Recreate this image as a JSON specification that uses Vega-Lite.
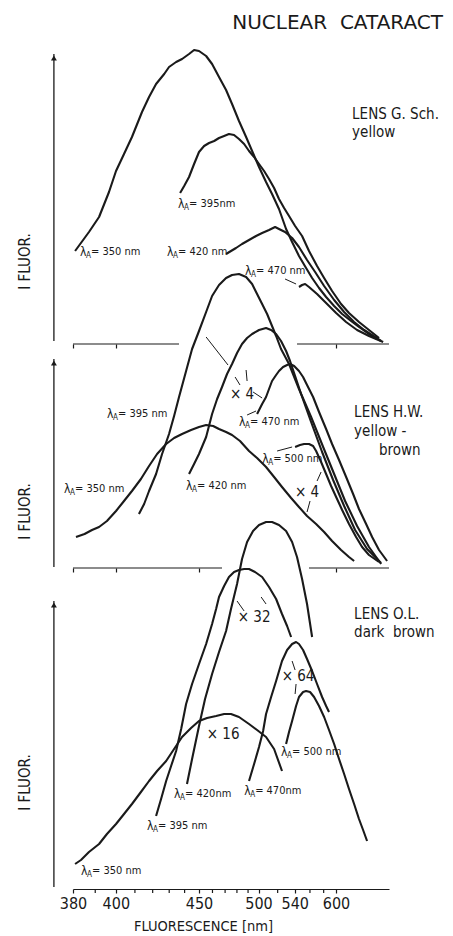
{
"$schema":"https://vega.github.io/schema/vega-lite/v6.json",
"background":"white",
"padding":{"left":17,"top":12,"right":2,"bottom":2},
"spacing":0,
"bounds":"flush",
"title":{"text":"NUCLEAR\u00a0\u00a0CATARACT","anchor":"end","fontSize":20,"fontWeight":"normal","font":"DejaVu Sans","dx":4,"offset":16,"color":"#1a1a1a"},
"config":{"view":{"stroke":null},"font":"'Liberation Sans Narrow', 'DejaVu Sans Condensed', sans-serif","text":{"color":"#1a1a1a"},"axis":{"grid":false}},
"datasets":{
"curves":[
{"p":1,"s":"350","nm":380.9,"v":93},{"p":1,"s":"350","nm":387.1,"v":112},{"p":1,"s":"350","nm":391.8,"v":127},{"p":1,"s":"350","nm":396.6,"v":152},{"p":1,"s":"350","nm":400.1,"v":173},{"p":1,"s":"350","nm":404.2,"v":190},{"p":1,"s":"350","nm":408.4,"v":207},{"p":1,"s":"350","nm":413.9,"v":232},{"p":1,"s":"350","nm":417.9,"v":247},{"p":1,"s":"350","nm":422.0,"v":260},{"p":1,"s":"350","nm":426.9,"v":270},{"p":1,"s":"350","nm":429.9,"v":277},{"p":1,"s":"350","nm":434.4,"v":282},{"p":1,"s":"350","nm":438.3,"v":285},{"p":1,"s":"350","nm":443.0,"v":290},{"p":1,"s":"350","nm":446.5,"v":294},{"p":1,"s":"350","nm":450.0,"v":293},{"p":1,"s":"350","nm":455.2,"v":288},{"p":1,"s":"350","nm":459.7,"v":280},{"p":1,"s":"350","nm":465.1,"v":267},{"p":1,"s":"350","nm":470.8,"v":254},{"p":1,"s":"350","nm":475.8,"v":240},{"p":1,"s":"350","nm":481.8,"v":223},{"p":1,"s":"350","nm":488.2,"v":207},{"p":1,"s":"350","nm":493.8,"v":193},{"p":1,"s":"350","nm":500.5,"v":177},{"p":1,"s":"350","nm":507.6,"v":162},{"p":1,"s":"350","nm":513.9,"v":150},{"p":1,"s":"350","nm":521.5,"v":135},{"p":1,"s":"350","nm":529.6,"v":115},{"p":1,"s":"350","nm":536.8,"v":102},{"p":1,"s":"350","nm":545.4,"v":88},{"p":1,"s":"350","nm":554.7,"v":76},{"p":1,"s":"350","nm":563.0,"v":66},{"p":1,"s":"350","nm":573.0,"v":56},{"p":1,"s":"350","nm":583.8,"v":47},{"p":1,"s":"350","nm":596.8,"v":38},{"p":1,"s":"350","nm":610.7,"v":30},{"p":1,"s":"350","nm":627.4,"v":23},{"p":1,"s":"350","nm":643.4,"v":17},{"p":1,"s":"350","nm":665.5,"v":10},{"p":1,"s":"350","nm":685.2,"v":5},
{"p":1,"s":"395","nm":437.0,"v":151},{"p":1,"s":"395","nm":439.7,"v":158},{"p":1,"s":"395","nm":443.0,"v":167},{"p":1,"s":"395","nm":446.5,"v":180},{"p":1,"s":"395","nm":450.0,"v":192},{"p":1,"s":"395","nm":453.7,"v":198},{"p":1,"s":"395","nm":457.4,"v":201},{"p":1,"s":"395","nm":461.3,"v":203},{"p":1,"s":"395","nm":465.1,"v":206},{"p":1,"s":"395","nm":469.2,"v":208},{"p":1,"s":"395","nm":473.2,"v":210},{"p":1,"s":"395","nm":477.5,"v":209},{"p":1,"s":"395","nm":481.8,"v":205},{"p":1,"s":"395","nm":486.4,"v":200},{"p":1,"s":"395","nm":490.9,"v":193},{"p":1,"s":"395","nm":495.7,"v":187},{"p":1,"s":"395","nm":500.5,"v":180},{"p":1,"s":"395","nm":505.6,"v":173},{"p":1,"s":"395","nm":510.7,"v":165},{"p":1,"s":"395","nm":516.1,"v":156},{"p":1,"s":"395","nm":521.5,"v":145},{"p":1,"s":"395","nm":527.3,"v":136},{"p":1,"s":"395","nm":533.1,"v":128},{"p":1,"s":"395","nm":540.5,"v":118},{"p":1,"s":"395","nm":549.4,"v":108},{"p":1,"s":"395","nm":558.7,"v":93},{"p":1,"s":"395","nm":570.1,"v":78},{"p":1,"s":"395","nm":580.7,"v":66},{"p":1,"s":"395","nm":593.4,"v":53},{"p":1,"s":"395","nm":608.8,"v":40},{"p":1,"s":"395","nm":623.4,"v":31},{"p":1,"s":"395","nm":643.4,"v":22},{"p":1,"s":"395","nm":665.5,"v":14},{"p":1,"s":"395","nm":690.1,"v":6},
{"p":1,"s":"420","nm":470.8,"v":90},{"p":1,"s":"420","nm":474.9,"v":93},{"p":1,"s":"420","nm":479.2,"v":96},{"p":1,"s":"420","nm":484.5,"v":100},{"p":1,"s":"420","nm":490.9,"v":104},{"p":1,"s":"420","nm":497.6,"v":108},{"p":1,"s":"420","nm":503.6,"v":111},{"p":1,"s":"420","nm":510.7,"v":114},{"p":1,"s":"420","nm":517.2,"v":117},{"p":1,"s":"420","nm":521.5,"v":115},{"p":1,"s":"420","nm":528.4,"v":112},{"p":1,"s":"420","nm":536.8,"v":106},{"p":1,"s":"420","nm":545.4,"v":97},{"p":1,"s":"420","nm":556.0,"v":84},{"p":1,"s":"420","nm":567.3,"v":72},{"p":1,"s":"420","nm":580.7,"v":58},{"p":1,"s":"420","nm":596.8,"v":44},{"p":1,"s":"420","nm":614.3,"v":32},{"p":1,"s":"420","nm":633.4,"v":22},{"p":1,"s":"420","nm":654.5,"v":14},{"p":1,"s":"420","nm":695.6,"v":3},
{"p":1,"s":"470","nm":545.4,"v":57},{"p":1,"s":"470","nm":549.4,"v":59},{"p":1,"s":"470","nm":553.4,"v":60},{"p":1,"s":"470","nm":558.7,"v":57},{"p":1,"s":"470","nm":570.1,"v":50},{"p":1,"s":"470","nm":583.8,"v":41},{"p":1,"s":"470","nm":600.2,"v":31},{"p":1,"s":"470","nm":617.9,"v":22},{"p":1,"s":"470","nm":639.4,"v":14},{"p":1,"s":"470","nm":665.5,"v":8},{"p":1,"s":"470","nm":701.1,"v":2},
{"p":2,"s":"350","nm":381.3,"v":31},{"p":2,"s":"350","nm":385.1,"v":34},{"p":2,"s":"350","nm":388.5,"v":38},{"p":2,"s":"350","nm":391.8,"v":41},{"p":2,"s":"350","nm":395.6,"v":47},{"p":2,"s":"350","nm":400.1,"v":57},{"p":2,"s":"350","nm":404.2,"v":67},{"p":2,"s":"350","nm":408.4,"v":77},{"p":2,"s":"350","nm":413.3,"v":89},{"p":2,"s":"350","nm":417.9,"v":102},{"p":2,"s":"350","nm":422.6,"v":114},{"p":2,"s":"350","nm":428.1,"v":124},{"p":2,"s":"350","nm":433.1,"v":130},{"p":2,"s":"350","nm":438.3,"v":134},{"p":2,"s":"350","nm":444.4,"v":138},{"p":2,"s":"350","nm":450.0,"v":141},{"p":2,"s":"350","nm":455.2,"v":143},{"p":2,"s":"350","nm":460.5,"v":142},{"p":2,"s":"350","nm":465.1,"v":139},{"p":2,"s":"350","nm":470.8,"v":136},{"p":2,"s":"350","nm":475.8,"v":133},{"p":2,"s":"350","nm":482.7,"v":127},{"p":2,"s":"350","nm":490.9,"v":117},{"p":2,"s":"350","nm":498.6,"v":110},{"p":2,"s":"350","nm":507.6,"v":101},{"p":2,"s":"350","nm":516.1,"v":91},{"p":2,"s":"350","nm":524.9,"v":81},{"p":2,"s":"350","nm":535.6,"v":70},{"p":2,"s":"350","nm":545.4,"v":61},{"p":2,"s":"350","nm":556.0,"v":52},{"p":2,"s":"350","nm":568.7,"v":44},{"p":2,"s":"350","nm":580.7,"v":36},{"p":2,"s":"350","nm":593.4,"v":27},{"p":2,"s":"350","nm":608.8,"v":18},{"p":2,"s":"350","nm":623.4,"v":11},{"p":2,"s":"350","nm":633.4,"v":7},
{"p":2,"s":"395","nm":412.2,"v":54},{"p":2,"s":"395","nm":415.1,"v":64},{"p":2,"s":"395","nm":417.9,"v":77},{"p":2,"s":"395","nm":422.0,"v":94},{"p":2,"s":"395","nm":425.6,"v":114},{"p":2,"s":"395","nm":429.9,"v":134},{"p":2,"s":"395","nm":433.1,"v":152},{"p":2,"s":"395","nm":436.3,"v":171},{"p":2,"s":"395","nm":441.0,"v":197},{"p":2,"s":"395","nm":445.1,"v":219},{"p":2,"s":"395","nm":450.0,"v":237},{"p":2,"s":"395","nm":455.2,"v":256},{"p":2,"s":"395","nm":459.7,"v":272},{"p":2,"s":"395","nm":465.1,"v":283},{"p":2,"s":"395","nm":470.8,"v":290},{"p":2,"s":"395","nm":475.8,"v":293},{"p":2,"s":"395","nm":481.8,"v":294},{"p":2,"s":"395","nm":488.2,"v":291},{"p":2,"s":"395","nm":493.8,"v":284},{"p":2,"s":"395","nm":498.6,"v":274},{"p":2,"s":"395","nm":503.6,"v":264},{"p":2,"s":"395","nm":508.7,"v":254},{"p":2,"s":"395","nm":513.0,"v":244},{"p":2,"s":"395","nm":518.3,"v":232},{"p":2,"s":"395","nm":523.8,"v":219},{"p":2,"s":"395","nm":533.1,"v":204},{"p":2,"s":"395","nm":545.4,"v":179},{"p":2,"s":"395","nm":561.6,"v":151},{"p":2,"s":"395","nm":579.2,"v":121},{"p":2,"s":"395","nm":596.8,"v":94},{"p":2,"s":"395","nm":616.1,"v":67},{"p":2,"s":"395","nm":639.4,"v":42},{"p":2,"s":"395","nm":665.5,"v":21},{"p":2,"s":"395","nm":695.6,"v":4},
{"p":2,"s":"420","nm":443.0,"v":94},{"p":2,"s":"420","nm":446.5,"v":104},{"p":2,"s":"420","nm":450.0,"v":114},{"p":2,"s":"420","nm":455.2,"v":131},{"p":2,"s":"420","nm":459.7,"v":154},{"p":2,"s":"420","nm":463.6,"v":169},{"p":2,"s":"420","nm":467.5,"v":181},{"p":2,"s":"420","nm":471.6,"v":194},{"p":2,"s":"420","nm":475.8,"v":204},{"p":2,"s":"420","nm":480.1,"v":215},{"p":2,"s":"420","nm":484.5,"v":224},{"p":2,"s":"420","nm":489.1,"v":230},{"p":2,"s":"420","nm":493.8,"v":234},{"p":2,"s":"420","nm":500.5,"v":238},{"p":2,"s":"420","nm":507.6,"v":240},{"p":2,"s":"420","nm":512.9,"v":238},{"p":2,"s":"420","nm":518.3,"v":234},{"p":2,"s":"420","nm":523.8,"v":227},{"p":2,"s":"420","nm":529.6,"v":217},{"p":2,"s":"420","nm":534.3,"v":207},{"p":2,"s":"420","nm":540.5,"v":192},{"p":2,"s":"420","nm":548.1,"v":174},{"p":2,"s":"420","nm":561.6,"v":146},{"p":2,"s":"420","nm":577.6,"v":116},{"p":2,"s":"420","nm":595.1,"v":88},{"p":2,"s":"420","nm":614.3,"v":62},{"p":2,"s":"420","nm":635.4,"v":38},{"p":2,"s":"420","nm":661.1,"v":19},{"p":2,"s":"420","nm":695.6,"v":5},
{"p":2,"s":"470","nm":498.6,"v":154},{"p":2,"s":"470","nm":503.6,"v":164},{"p":2,"s":"470","nm":507.6,"v":171},{"p":2,"s":"470","nm":510.7,"v":179},{"p":2,"s":"470","nm":513.9,"v":187},{"p":2,"s":"470","nm":518.3,"v":193},{"p":2,"s":"470","nm":521.5,"v":197},{"p":2,"s":"470","nm":526.1,"v":201},{"p":2,"s":"470","nm":530.8,"v":203},{"p":2,"s":"470","nm":534.3,"v":204},{"p":2,"s":"470","nm":539.3,"v":202},{"p":2,"s":"470","nm":545.4,"v":197},{"p":2,"s":"470","nm":550.7,"v":191},{"p":2,"s":"470","nm":556.0,"v":183},{"p":2,"s":"470","nm":564.4,"v":171},{"p":2,"s":"470","nm":573.0,"v":156},{"p":2,"s":"470","nm":583.8,"v":139},{"p":2,"s":"470","nm":593.4,"v":124},{"p":2,"s":"470","nm":605.2,"v":108},{"p":2,"s":"470","nm":618.0,"v":91},{"p":2,"s":"470","nm":631.4,"v":74},{"p":2,"s":"470","nm":643.4,"v":59},{"p":2,"s":"470","nm":658.9,"v":44},{"p":2,"s":"470","nm":672.9,"v":31},{"p":2,"s":"470","nm":690.1,"v":18},{"p":2,"s":"470","nm":712.0,"v":7},
{"p":2,"s":"500","nm":540.5,"v":121},{"p":2,"s":"500","nm":546.7,"v":123},{"p":2,"s":"500","nm":552.0,"v":124},{"p":2,"s":"500","nm":558.7,"v":124},{"p":2,"s":"500","nm":564.4,"v":122},{"p":2,"s":"500","nm":568.7,"v":117},{"p":2,"s":"500","nm":576.1,"v":106},{"p":2,"s":"500","nm":583.8,"v":94},{"p":2,"s":"500","nm":591.8,"v":82},{"p":2,"s":"500","nm":600.2,"v":71},{"p":2,"s":"500","nm":610.7,"v":58},{"p":2,"s":"500","nm":623.4,"v":44},{"p":2,"s":"500","nm":637.4,"v":31},{"p":2,"s":"500","nm":650.0,"v":21},{"p":2,"s":"500","nm":665.5,"v":13},{"p":2,"s":"500","nm":690.1,"v":6},
{"p":3,"s":"350","nm":380.9,"v":25},{"p":3,"s":"350","nm":383.5,"v":29},{"p":3,"s":"350","nm":387.1,"v":37},{"p":3,"s":"350","nm":391.8,"v":45},{"p":3,"s":"350","nm":395.6,"v":55},{"p":3,"s":"350","nm":400.1,"v":65},{"p":3,"s":"350","nm":404.2,"v":75},{"p":3,"s":"350","nm":408.4,"v":85},{"p":3,"s":"350","nm":413.3,"v":97},{"p":3,"s":"350","nm":417.9,"v":108},{"p":3,"s":"350","nm":422.6,"v":118},{"p":3,"s":"350","nm":428.1,"v":128},{"p":3,"s":"350","nm":433.1,"v":140},{"p":3,"s":"350","nm":438.3,"v":152},{"p":3,"s":"350","nm":444.4,"v":161},{"p":3,"s":"350","nm":450.0,"v":168},{"p":3,"s":"350","nm":455.9,"v":171},{"p":3,"s":"350","nm":462.8,"v":173},{"p":3,"s":"350","nm":469.2,"v":175},{"p":3,"s":"350","nm":474.9,"v":175},{"p":3,"s":"350","nm":481.8,"v":172},{"p":3,"s":"350","nm":490.9,"v":165},{"p":3,"s":"350","nm":498.6,"v":159},{"p":3,"s":"350","nm":507.6,"v":152},{"p":3,"s":"350","nm":516.1,"v":140},{"p":3,"s":"350","nm":524.9,"v":118},
{"p":3,"s":"395","nm":422.0,"v":73},{"p":3,"s":"395","nm":425.0,"v":90},{"p":3,"s":"395","nm":428.1,"v":108},{"p":3,"s":"395","nm":431.2,"v":123},{"p":3,"s":"395","nm":434.4,"v":138},{"p":3,"s":"395","nm":437.7,"v":160},{"p":3,"s":"395","nm":441.0,"v":185},{"p":3,"s":"395","nm":445.1,"v":205},{"p":3,"s":"395","nm":450.0,"v":225},{"p":3,"s":"395","nm":455.2,"v":245},{"p":3,"s":"395","nm":459.7,"v":265},{"p":3,"s":"395","nm":462.8,"v":280},{"p":3,"s":"395","nm":465.1,"v":292},{"p":3,"s":"395","nm":469.2,"v":303},{"p":3,"s":"395","nm":473.2,"v":312},{"p":3,"s":"395","nm":477.5,"v":317},{"p":3,"s":"395","nm":481.8,"v":319},{"p":3,"s":"395","nm":486.4,"v":320},{"p":3,"s":"395","nm":490.9,"v":320},{"p":3,"s":"395","nm":496.6,"v":317},{"p":3,"s":"395","nm":503.6,"v":312},{"p":3,"s":"395","nm":510.7,"v":302},{"p":3,"s":"395","nm":518.3,"v":290},{"p":3,"s":"395","nm":524.9,"v":275},{"p":3,"s":"395","nm":530.8,"v":263},{"p":3,"s":"395","nm":535.6,"v":252},
{"p":3,"s":"420","nm":441.6,"v":105},{"p":3,"s":"420","nm":445.1,"v":130},{"p":3,"s":"420","nm":450.0,"v":163},{"p":3,"s":"420","nm":454.4,"v":190},{"p":3,"s":"420","nm":459.7,"v":215},{"p":3,"s":"420","nm":465.1,"v":237},{"p":3,"s":"420","nm":470.8,"v":258},{"p":3,"s":"420","nm":474.9,"v":280},{"p":3,"s":"420","nm":480.1,"v":305},{"p":3,"s":"420","nm":484.5,"v":330},{"p":3,"s":"420","nm":489.1,"v":347},{"p":3,"s":"420","nm":494.7,"v":358},{"p":3,"s":"420","nm":500.5,"v":364},{"p":3,"s":"420","nm":507.6,"v":367},{"p":3,"s":"420","nm":513.9,"v":367},{"p":3,"s":"420","nm":521.5,"v":364},{"p":3,"s":"420","nm":529.6,"v":358},{"p":3,"s":"420","nm":536.8,"v":347},{"p":3,"s":"420","nm":542.9,"v":332},{"p":3,"s":"420","nm":549.4,"v":310},{"p":3,"s":"420","nm":556.0,"v":285},{"p":3,"s":"420","nm":563.0,"v":252},
{"p":3,"s":"470","nm":490.9,"v":108},{"p":3,"s":"470","nm":495.7,"v":125},{"p":3,"s":"470","nm":500.5,"v":142},{"p":3,"s":"470","nm":504.6,"v":158},{"p":3,"s":"470","nm":507.6,"v":175},{"p":3,"s":"470","nm":512.9,"v":192},{"p":3,"s":"470","nm":518.3,"v":208},{"p":3,"s":"470","nm":524.9,"v":228},{"p":3,"s":"470","nm":530.8,"v":239},{"p":3,"s":"470","nm":536.8,"v":245},{"p":3,"s":"470","nm":541.7,"v":247},{"p":3,"s":"470","nm":545.4,"v":245},{"p":3,"s":"470","nm":550.7,"v":239},{"p":3,"s":"470","nm":556.0,"v":230},{"p":3,"s":"470","nm":563.0,"v":218},{"p":3,"s":"470","nm":570.1,"v":205},{"p":3,"s":"470","nm":577.6,"v":192},{"p":3,"s":"470","nm":583.8,"v":183},{"p":3,"s":"470","nm":588.4,"v":177},
{"p":3,"s":"500","nm":529.6,"v":145},{"p":3,"s":"500","nm":533.1,"v":157},{"p":3,"s":"500","nm":536.8,"v":168},{"p":3,"s":"500","nm":541.7,"v":183},{"p":3,"s":"500","nm":545.4,"v":192},{"p":3,"s":"500","nm":550.7,"v":197},{"p":3,"s":"500","nm":554.7,"v":198},{"p":3,"s":"500","nm":560.1,"v":197},{"p":3,"s":"500","nm":565.8,"v":192},{"p":3,"s":"500","nm":573.0,"v":183},{"p":3,"s":"500","nm":580.7,"v":172},{"p":3,"s":"500","nm":588.4,"v":159},{"p":3,"s":"500","nm":596.8,"v":145},{"p":3,"s":"500","nm":605.2,"v":130},{"p":3,"s":"500","nm":614.3,"v":115},{"p":3,"s":"500","nm":623.4,"v":100},{"p":3,"s":"500","nm":633.4,"v":85},{"p":3,"s":"500","nm":643.4,"v":70},{"p":3,"s":"500","nm":652.2,"v":59},{"p":3,"s":"500","nm":661.1,"v":48}
],
"lam":[
{"p":1,"nm":383.1,"v":92,"t":"= 350 nm"},{"p":1,"nm":435.7,"v":140,"t":"= 395nm"},{"p":1,"nm":428.6,"v":92,"t":"= 420 nm"},{"p":1,"nm":487.3,"v":73,"t":"= 470 nm"},
{"p":2,"nm":395.6,"v":154,"t":"= 395 nm"},{"p":2,"nm":481.8,"v":146,"t":"= 470 nm"},{"p":2,"nm":503.6,"v":109,"t":"= 500 nm"},{"p":2,"nm":441.0,"v":82,"t":"= 420 nm"},{"p":2,"nm":376.2,"v":79,"t":"= 350 nm"},
{"p":3,"nm":383.5,"v":18,"t":"= 350 nm"},{"p":3,"nm":416.7,"v":63,"t":"= 395 nm"},{"p":3,"nm":433.1,"v":95,"t":"= 420nm"},{"p":3,"nm":486.4,"v":98,"t":"= 470nm"},{"p":3,"nm":523.8,"v":137,"t":"= 500 nm"}
],
"notes":[
{"p":1,"nm":629.4,"v":230,"t":"LENS G. Sch."},{"p":1,"nm":629.4,"v":212,"t":"yellow"},
{"p":2,"nm":633.4,"v":156,"t":"LENS H.W."},{"p":2,"nm":633.4,"v":137,"t":"yellow -"},{"p":2,"nm":690.1,"v":118,"t":"brown"},
{"p":3,"nm":633.4,"v":275,"t":"LENS O.L."},{"p":3,"nm":633.4,"v":257,"t":"dark\u00a0\u00a0brown"}
],
"mult":[
{"p":2,"nm":484.5,"v":174,"t":"× 4"},{"p":2,"nm":556.0,"v":76,"t":"× 4"},
{"p":3,"nm":495.7,"v":272,"t":"× 32"},{"p":3,"nm":544.2,"v":213,"t":"× 64"},{"p":3,"nm":468.4,"v":155,"t":"× 16"}
],
"ptr":[
{"p":1,"a":528.4,"va":65,"b":541.7,"vb":60},
{"p":2,"a":455.2,"va":231,"b":472.4,"vb":203},{"p":2,"a":478.4,"va":191,"b":482.7,"vb":183},{"p":2,"a":488.2,"va":198,"b":489.1,"vb":187},{"p":2,"a":494.7,"va":176,"b":503.6,"vb":170},{"p":2,"a":489.1,"va":153,"b":497.6,"vb":157},{"p":2,"a":519.4,"va":117,"b":536.8,"vb":121},{"p":2,"a":570.1,"va":87,"b":576.1,"vb":96},{"p":2,"a":560.1,"va":67,"b":556.0,"vb":56},
{"p":3,"a":480.1,"va":288,"b":486.4,"vb":278},{"p":3,"a":502.6,"va":292,"b":507.6,"vb":285},{"p":3,"a":536.8,"va":228,"b":540.5,"vb":219},{"p":3,"a":541.7,"va":205,"b":540.5,"vb":195}
],
"base":[
{"p":1,"a":380,"b":436.3},{"p":1,"a":542.9,"b":717.5},
{"p":2,"a":380,"b":467.5},{"p":2,"a":558.6,"b":717.5}
],
"minor":[{"nm":390},{"nm":410},{"nm":420},{"nm":430},{"nm":440},{"nm":460},{"nm":470},{"nm":480},{"nm":490},{"nm":520},{"nm":560},{"nm":580}]
},
"vconcat":[
{"width":316,"height":290,
"layer":[
{"data":{"name":"curves"},"transform":[{"filter":"datum.p==1"}],"mark":{"type":"line","stroke":"#1a1a1a","strokeWidth":2.1,"strokeJoin":"round"},
"encoding":{"x":{"field":"nm","type":"quantitative","scale":{"type":"pow","exponent":-2,"domain":[380,717.5],"nice":false,"zero":false},"axis":{"values":[380,400,600],"labels":false,"domain":false,"ticks":true,"tickSize":4,"tickColor":"#1a1a1a","tickWidth":1.2,"title":null}},
"y":{"field":"v","type":"quantitative","scale":{"domain":[0,290],"nice":false,"zero":false},"axis":{"title":"I FLUOR.","titleX":-49,"titleY":207,"titleAngle":270,"titleAlign":"center","titleBaseline":"middle","titleFontSize":15,"titleFontWeight":"normal","titleColor":"#1a1a1a","domain":false,"ticks":false,"labels":false}},
"detail":{"field":"s"}}},
{"data":{"name":"base"},"transform":[{"filter":"datum.p==1"}],"mark":{"type":"rule","stroke":"#1a1a1a","strokeWidth":1.2},"encoding":{"x":{"field":"a","type":"quantitative"},"x2":{"field":"b"},"y":{"datum":0}}},
{"data":{"values":[{}]},"mark":{"type":"rule","stroke":"#1a1a1a","strokeWidth":1.3},"encoding":{"x":{"datum":372},"y":{"datum":3},"y2":{"datum":290}}},
{"data":{"values":[{}]},"mark":{"type":"point","shape":"triangle-up","filled":true,"color":"#1a1a1a","size":35,"opacity":1},"encoding":{"x":{"datum":372},"y":{"datum":286}}},
{"data":{"name":"ptr"},"transform":[{"filter":"datum.p==1"}],"mark":{"type":"rule","stroke":"#1a1a1a","strokeWidth":1},"encoding":{"x":{"field":"a","type":"quantitative"},"x2":{"field":"b"},"y":{"field":"va","type":"quantitative"},"y2":{"field":"vb"}}},
{"data":{"name":"lam"},"transform":[{"filter":"datum.p==1"}],"mark":{"type":"text","text":"λ","align":"left","baseline":"middle","fontSize":12},"encoding":{"x":{"field":"nm","type":"quantitative"},"y":{"field":"v","type":"quantitative"}}},
{"data":{"name":"lam"},"transform":[{"filter":"datum.p==1"}],"mark":{"type":"text","text":"A","align":"left","baseline":"middle","fontSize":8,"dx":6,"dy":4},"encoding":{"x":{"field":"nm","type":"quantitative"},"y":{"field":"v","type":"quantitative"}}},
{"data":{"name":"lam"},"transform":[{"filter":"datum.p==1"}],"mark":{"type":"text","align":"left","baseline":"middle","fontSize":11,"dx":11},"encoding":{"x":{"field":"nm","type":"quantitative"},"y":{"field":"v","type":"quantitative"},"text":{"field":"t"}}},
{"data":{"name":"notes"},"transform":[{"filter":"datum.p==1"}],"mark":{"type":"text","align":"left","baseline":"middle","fontSize":15},"encoding":{"x":{"field":"nm","type":"quantitative"},"y":{"field":"v","type":"quantitative"},"text":{"field":"t"}}}
]},
{"width":316,"height":224,
"layer":[
{"data":{"name":"curves"},"transform":[{"filter":"datum.p==2"}],"mark":{"type":"line","stroke":"#1a1a1a","strokeWidth":2.1,"strokeJoin":"round"},
"encoding":{"x":{"field":"nm","type":"quantitative","scale":{"type":"pow","exponent":-2,"domain":[380,717.5],"nice":false,"zero":false},"axis":{"values":[380,400,450,600],"labels":false,"domain":false,"ticks":true,"tickSize":4,"tickColor":"#1a1a1a","tickWidth":1.2,"title":null}},
"y":{"field":"v","type":"quantitative","scale":{"domain":[0,224],"nice":false,"zero":false},"axis":{"title":"I FLUOR.","titleX":-49,"titleY":167,"titleAngle":270,"titleAlign":"center","titleBaseline":"middle","titleFontSize":15,"titleFontWeight":"normal","titleColor":"#1a1a1a","domain":false,"ticks":false,"labels":false}},
"detail":{"field":"s"}}},
{"data":{"name":"base"},"transform":[{"filter":"datum.p==2"}],"mark":{"type":"rule","stroke":"#1a1a1a","strokeWidth":1.2},"encoding":{"x":{"field":"a","type":"quantitative"},"x2":{"field":"b"},"y":{"datum":0}}},
{"data":{"values":[{}]},"mark":{"type":"rule","stroke":"#1a1a1a","strokeWidth":1.3},"encoding":{"x":{"datum":372},"y":{"datum":1},"y2":{"datum":209}}},
{"data":{"values":[{}]},"mark":{"type":"point","shape":"triangle-up","filled":true,"color":"#1a1a1a","size":35,"opacity":1},"encoding":{"x":{"datum":372},"y":{"datum":205}}},
{"data":{"name":"ptr"},"transform":[{"filter":"datum.p==2"}],"mark":{"type":"rule","stroke":"#1a1a1a","strokeWidth":1},"encoding":{"x":{"field":"a","type":"quantitative"},"x2":{"field":"b"},"y":{"field":"va","type":"quantitative"},"y2":{"field":"vb"}}},
{"data":{"name":"lam"},"transform":[{"filter":"datum.p==2"}],"mark":{"type":"text","text":"λ","align":"left","baseline":"middle","fontSize":12},"encoding":{"x":{"field":"nm","type":"quantitative"},"y":{"field":"v","type":"quantitative"}}},
{"data":{"name":"lam"},"transform":[{"filter":"datum.p==2"}],"mark":{"type":"text","text":"A","align":"left","baseline":"middle","fontSize":8,"dx":6,"dy":4},"encoding":{"x":{"field":"nm","type":"quantitative"},"y":{"field":"v","type":"quantitative"}}},
{"data":{"name":"lam"},"transform":[{"filter":"datum.p==2"}],"mark":{"type":"text","align":"left","baseline":"middle","fontSize":11,"dx":11},"encoding":{"x":{"field":"nm","type":"quantitative"},"y":{"field":"v","type":"quantitative"},"text":{"field":"t"}}},
{"data":{"name":"mult"},"transform":[{"filter":"datum.p==2"}],"mark":{"type":"text","align":"center","baseline":"middle","fontSize":15},"encoding":{"x":{"field":"nm","type":"quantitative"},"y":{"field":"v","type":"quantitative"},"text":{"field":"t"}}},
{"data":{"name":"notes"},"transform":[{"filter":"datum.p==2"}],"mark":{"type":"text","align":"left","baseline":"middle","fontSize":15},"encoding":{"x":{"field":"nm","type":"quantitative"},"y":{"field":"v","type":"quantitative"},"text":{"field":"t"}}}
]},
{"width":316,"height":321,
"layer":[
{"data":{"name":"curves"},"transform":[{"filter":"datum.p==3"}],"mark":{"type":"line","stroke":"#1a1a1a","strokeWidth":2.1,"strokeJoin":"round"},
"encoding":{"x":{"field":"nm","type":"quantitative","scale":{"type":"pow","exponent":-2,"domain":[380,717.5],"nice":false,"zero":false},"axis":{"values":[380,400,450,500,540,600],"format":"d","labelOverlap":false,"labelBound":false,"labelFlush":false,"labelFontSize":16,"labelColor":"#1a1a1a","labelPadding":2,"domain":true,"domainColor":"#1a1a1a","domainWidth":1.2,"ticks":true,"tickSize":4,"tickColor":"#1a1a1a","tickWidth":1.2,"title":"FLUORESCENCE [nm]","titleX":130,"titleY":37,"titleAlign":"center","titleBaseline":"middle","titleFontSize":14.5,"titleFontWeight":"normal","titleColor":"#1a1a1a"}},
"y":{"field":"v","type":"quantitative","scale":{"domain":[0,321],"nice":false,"zero":false},"axis":{"title":"I FLUOR.","titleX":-49,"titleY":214,"titleAngle":270,"titleAlign":"center","titleBaseline":"middle","titleFontSize":15,"titleFontWeight":"normal","titleColor":"#1a1a1a","domain":false,"ticks":false,"labels":false}},
"detail":{"field":"s"}}},
{"data":{"name":"minor"},"mark":{"type":"rule","stroke":"#1a1a1a","strokeWidth":1.2},"encoding":{"x":{"field":"nm","type":"quantitative"},"y":{"datum":0},"y2":{"datum":-4}}},
{"data":{"values":[{}]},"mark":{"type":"rule","stroke":"#1a1a1a","strokeWidth":1.3},"encoding":{"x":{"datum":372},"y":{"datum":2},"y2":{"datum":288}}},
{"data":{"values":[{}]},"mark":{"type":"point","shape":"triangle-up","filled":true,"color":"#1a1a1a","size":35,"opacity":1},"encoding":{"x":{"datum":372},"y":{"datum":284}}},
{"data":{"name":"ptr"},"transform":[{"filter":"datum.p==3"}],"mark":{"type":"rule","stroke":"#1a1a1a","strokeWidth":1},"encoding":{"x":{"field":"a","type":"quantitative"},"x2":{"field":"b"},"y":{"field":"va","type":"quantitative"},"y2":{"field":"vb"}}},
{"data":{"name":"lam"},"transform":[{"filter":"datum.p==3"}],"mark":{"type":"text","text":"λ","align":"left","baseline":"middle","fontSize":12},"encoding":{"x":{"field":"nm","type":"quantitative"},"y":{"field":"v","type":"quantitative"}}},
{"data":{"name":"lam"},"transform":[{"filter":"datum.p==3"}],"mark":{"type":"text","text":"A","align":"left","baseline":"middle","fontSize":8,"dx":6,"dy":4},"encoding":{"x":{"field":"nm","type":"quantitative"},"y":{"field":"v","type":"quantitative"}}},
{"data":{"name":"lam"},"transform":[{"filter":"datum.p==3"}],"mark":{"type":"text","align":"left","baseline":"middle","fontSize":11,"dx":11},"encoding":{"x":{"field":"nm","type":"quantitative"},"y":{"field":"v","type":"quantitative"},"text":{"field":"t"}}},
{"data":{"name":"mult"},"transform":[{"filter":"datum.p==3"}],"mark":{"type":"text","align":"center","baseline":"middle","fontSize":15},"encoding":{"x":{"field":"nm","type":"quantitative"},"y":{"field":"v","type":"quantitative"},"text":{"field":"t"}}},
{"data":{"name":"notes"},"transform":[{"filter":"datum.p==3"}],"mark":{"type":"text","align":"left","baseline":"middle","fontSize":15},"encoding":{"x":{"field":"nm","type":"quantitative"},"y":{"field":"v","type":"quantitative"},"text":{"field":"t"}}}
]}
]
}
